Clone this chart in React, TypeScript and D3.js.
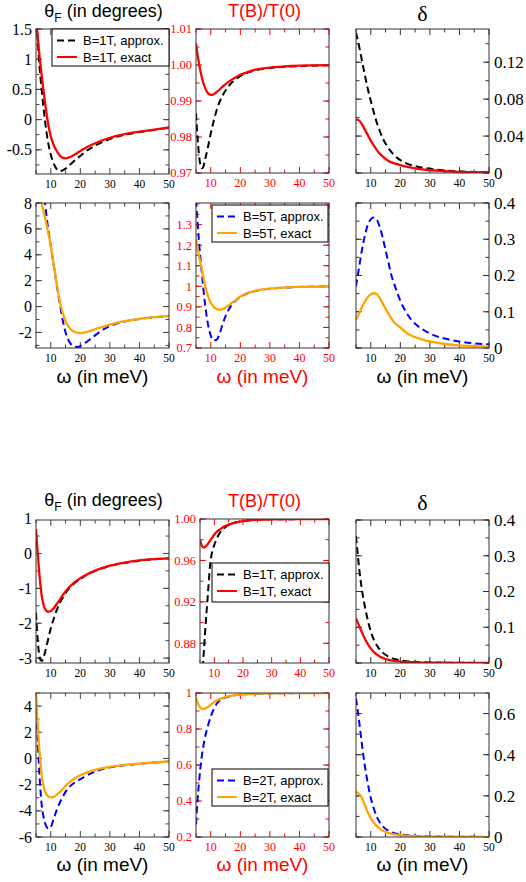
import React from "react";
import * as d3 from "d3";

// ---------------- data ----------------
const OMEGA_DOMAIN: [number, number] = [5, 50];
const X_MAJOR = [10, 20, 30, 40, 50];
const X_MINOR = [5, 15, 25, 35, 45];

// Block 1 (top), B = 1T
const w1Theta = [5, 6, 7, 8, 9, 10, 11, 12, 13, 14, 15, 16, 18, 20, 22, 25, 30, 35, 40, 45, 50];
const theta1Exact = [1.7, 1.15, 0.7, 0.3, -0.04, -0.28, -0.42, -0.52, -0.59, -0.63, -0.64, -0.63, -0.58, -0.52, -0.46, -0.39, -0.3, -0.24, -0.2, -0.165, -0.13];
const theta1Approx = [1.8, 1.0, 0.45, 0.0, -0.35, -0.58, -0.73, -0.82, -0.85, -0.84, -0.81, -0.77, -0.68, -0.6, -0.52, -0.43, -0.32, -0.25, -0.205, -0.17, -0.135];

const w1Trans = [5, 5.5, 6, 6.5, 7, 7.5, 8, 9, 10, 11, 12, 13, 14, 16, 18, 20, 22, 25, 30, 35, 40, 50];
const trans1Exact = [1.006, 1.003, 1.0005, 0.9983, 0.9965, 0.995, 0.9938, 0.9922, 0.9917, 0.9919, 0.9925, 0.9932, 0.994, 0.9953, 0.9964, 0.9973, 0.9979, 0.9987, 0.9993, 0.9996, 0.9998, 0.99995];
const trans1Approx = [0.9866, 0.98, 0.9752, 0.9722, 0.9713, 0.9718, 0.9735, 0.977, 0.981, 0.9845, 0.9875, 0.9898, 0.9915, 0.9941, 0.9958, 0.9969, 0.9977, 0.9985, 0.9992, 0.9995, 0.9997, 0.99993];

const w1Delta = [5, 6, 7, 8, 9, 10, 11, 12, 13, 14, 16, 18, 20, 22, 25, 30, 35, 40, 45, 50];
const delta1Approx = [0.152, 0.138, 0.122, 0.106, 0.091, 0.078, 0.066, 0.055, 0.046, 0.038, 0.027, 0.019, 0.014, 0.0105, 0.0075, 0.0045, 0.0028, 0.0018, 0.0012, 0.0008];
const delta1Exact = [0.058, 0.057, 0.053, 0.047, 0.041, 0.035, 0.03, 0.025, 0.021, 0.018, 0.013, 0.0105, 0.0085, 0.0068, 0.005, 0.003, 0.002, 0.0012, 0.0008, 0.0006];

// Block 1 (top), B = 5T
const w5Theta = [5, 6, 7, 8, 9, 10, 11, 12, 13, 14, 15, 16, 17, 18, 19, 20, 21, 22, 24, 26, 28, 30, 35, 40, 45, 50];
const theta5Exact = [10.2, 9.0, 7.9, 6.9, 5.9, 4.7, 3.2, 1.8, 0.45, -0.45, -1.15, -1.55, -1.8, -1.95, -2.02, -2.05, -2.02, -1.97, -1.82, -1.67, -1.53, -1.4, -1.13, -0.95, -0.82, -0.72];
const theta5Approx = [16, 13, 10.4, 8.1, 6.2, 4.7, 3.2, 1.7, 0.3, -1.0, -2.0, -2.6, -2.95, -3.1, -3.12, -3.05, -2.9, -2.75, -2.4, -2.05, -1.75, -1.52, -1.15, -0.96, -0.83, -0.73];

const w5Trans = [5, 6, 7, 8, 9, 10, 11, 12, 13, 14, 15, 16, 17, 18, 20, 22, 25, 30, 35, 40, 50];
const trans5Exact = [1.23, 1.15, 1.08, 1.01, 0.955, 0.92, 0.9, 0.889, 0.886, 0.889, 0.897, 0.907, 0.918, 0.928, 0.95, 0.965, 0.978, 0.989, 0.994, 0.997, 0.999];
const trans5Approx = [1.42, 1.22, 1.06, 0.92, 0.82, 0.76, 0.737, 0.74, 0.77, 0.815, 0.855, 0.885, 0.907, 0.925, 0.948, 0.963, 0.977, 0.988, 0.994, 0.997, 0.999];

const w5Delta = [5, 6, 7, 8, 9, 10, 11, 12, 13, 14, 15, 16, 17, 18, 20, 22, 24, 26, 28, 30, 35, 40, 45, 50];
const delta5Approx = [0.17, 0.22, 0.27, 0.31, 0.34, 0.355, 0.36, 0.355, 0.335, 0.305, 0.27, 0.235, 0.2, 0.175, 0.13, 0.098, 0.075, 0.06, 0.049, 0.04, 0.026, 0.018, 0.013, 0.01];
const delta5Exact = [0.077, 0.095, 0.113, 0.128, 0.14, 0.148, 0.151, 0.149, 0.138, 0.123, 0.108, 0.094, 0.081, 0.07, 0.057, 0.042, 0.033, 0.027, 0.022, 0.018, 0.011, 0.007, 0.005, 0.004];

// Block 2 (bottom), B = 1T
const v1Theta = [5, 5.5, 6, 6.5, 7, 7.5, 8, 9, 10, 11, 12, 13, 14, 15, 16, 18, 20, 22, 25, 30, 35, 40, 45, 50];
const thetaB1Exact = [0.7, 0.1, -0.45, -0.9, -1.25, -1.45, -1.58, -1.67, -1.65, -1.57, -1.45, -1.33, -1.2, -1.09, -0.99, -0.83, -0.71, -0.61, -0.49, -0.35, -0.26, -0.2, -0.16, -0.14];
const thetaB1Approx = [-1.7, -2.4, -2.85, -3.05, -3.08, -3.0, -2.85, -2.5, -2.15, -1.87, -1.63, -1.43, -1.27, -1.13, -1.02, -0.85, -0.73, -0.62, -0.5, -0.36, -0.27, -0.205, -0.165, -0.14];

const v1Trans = [5, 5.5, 6, 6.5, 7, 7.5, 8, 8.5, 9, 10, 11, 12, 13, 14, 16, 18, 20, 25, 30, 40, 50];
const transB1Exact = [0.98, 0.975, 0.9728, 0.9725, 0.9735, 0.975, 0.977, 0.979, 0.981, 0.985, 0.988, 0.99, 0.992, 0.9935, 0.9955, 0.997, 0.998, 0.9992, 0.9997, 0.9999, 1.0];
const transB1Approx = [0.75, 0.8, 0.855, 0.878, 0.9, 0.918, 0.937, 0.955, 0.965, 0.975, 0.982, 0.987, 0.99, 0.9925, 0.9955, 0.997, 0.998, 0.9992, 0.9997, 0.9999, 1.0];

const v1Delta = [5, 6, 7, 8, 9, 10, 11, 12, 13, 14, 16, 18, 20, 25, 30, 40, 50];
const deltaB1Approx = [0.355, 0.27, 0.205, 0.158, 0.12, 0.088, 0.066, 0.05, 0.038, 0.029, 0.018, 0.011, 0.0075, 0.003, 0.0015, 0.0005, 0.0002];
const deltaB1Exact = [0.125, 0.105, 0.086, 0.068, 0.053, 0.041, 0.031, 0.024, 0.018, 0.014, 0.009, 0.006, 0.004, 0.0018, 0.0009, 0.0003, 0.0001];

// Block 2 (bottom), B = 2T
const v2Theta = [5, 5.5, 6, 6.5, 7, 7.5, 8, 8.5, 9, 9.5, 10, 11, 12, 13, 14, 15, 16, 18, 20, 22, 25, 30, 35, 40, 45, 50];
const thetaB2Exact = [5.0, 2.9, 1.1, -0.3, -1.4, -2.05, -2.5, -2.75, -2.88, -2.94, -2.97, -2.93, -2.78, -2.58, -2.35, -2.1, -1.88, -1.53, -1.28, -1.08, -0.87, -0.64, -0.5, -0.4, -0.31, -0.23];
const thetaB2Approx = [3.5, 1.8, -0.5, -2.4, -3.7, -4.4, -4.9, -5.2, -5.33, -5.35, -5.25, -4.6, -3.95, -3.4, -2.95, -2.55, -2.25, -1.85, -1.58, -1.32, -1.0, -0.68, -0.52, -0.41, -0.31, -0.24];

const v2Trans = [5, 5.5, 6, 6.5, 7, 7.5, 8, 9, 10, 11, 12, 13, 14, 16, 18, 20, 25, 30, 40, 50];
const transB2Exact = [0.975, 0.95, 0.93, 0.918, 0.912, 0.911, 0.913, 0.922, 0.935, 0.948, 0.958, 0.966, 0.972, 0.981, 0.987, 0.991, 0.996, 0.998, 0.9995, 1.0];
const transB2Approx = [0.27, 0.4, 0.5, 0.585, 0.655, 0.705, 0.75, 0.815, 0.87, 0.91, 0.94, 0.958, 0.968, 0.98, 0.987, 0.991, 0.996, 0.998, 0.9995, 1.0];

const v2Delta = [5, 6, 7, 8, 9, 10, 11, 12, 13, 14, 16, 18, 20, 25, 30, 40, 50];
const deltaB2Approx = [0.675, 0.57, 0.45, 0.345, 0.26, 0.19, 0.14, 0.1, 0.072, 0.053, 0.03, 0.019, 0.013, 0.006, 0.003, 0.001, 0.0005];
const deltaB2Exact = [0.22, 0.21, 0.19, 0.155, 0.12, 0.092, 0.07, 0.054, 0.042, 0.032, 0.02, 0.013, 0.009, 0.004, 0.002, 0.0007, 0.0003];

// tick values
const yTicksTheta1 = [-0.5, 0, 0.5, 1, 1.5];
const yTicksTrans1 = [0.97, 0.98, 0.99, 1.0, 1.01];
const yTicksDelta1 = [0, 0.04, 0.08, 0.12];
const yTicksTheta5 = [-2, 0, 2, 4, 6, 8];
const yTicksTrans5 = [0.7, 0.8, 0.9, 1, 1.1, 1.2, 1.3];
const yTicksDelta5 = [0, 0.1, 0.2, 0.3, 0.4];
const yTicksThetaB1 = [-3, -2, -1, 0, 1];
const yTicksTransB1 = [0.88, 0.92, 0.96, 1.0];
const yTicksDeltaB1 = [0, 0.1, 0.2, 0.3, 0.4];
const yTicksThetaB2 = [-6, -4, -2, 0, 2, 4];
const yTicksTransB2 = [0.2, 0.4, 0.6, 0.8, 1];
const yTicksDeltaB2 = [0, 0.2, 0.4, 0.6];

// ---------------- styling ----------------
const RED = "#ff0000";
const BLACK = "#000000";
const BLUE = "#0000ff";
const ORANGE = "#ffa500";
const FRAME = "#333333";
const SERIF = "'Liberation Serif', 'DejaVu Serif', serif";
const SANS = "'Liberation Sans', Arial, sans-serif";

const COL1 = { left: 36, right: 169 };
const COL2 = { left: 196, right: 329 };
const COL3 = { left: 356, right: 489 };

type Series = { xs: number[]; ys: number[]; color: string; dashed: boolean };
type LegendCfg = { x: number; y: number; w: number; h: number; items: { label: string; color: string; dashed: boolean }[] };
type PanelCfg = {
  id: string;
  left: number; right: number; top: number; bottom: number;
  yDomain: [number, number];
  yTicks: number[];
  yMinor: number;
  yFmt: (v: number) => string;
  ySide: "left" | "right";
  yFont: number;
  xFont: number;
  labelColor: string;
  tickColor: string;
  series: Series[];
  legend?: LegendCfg;
};

const plain = (v: number) => String(v);
const fixed2 = (v: number) => v.toFixed(2);

const col1 = (top: number, bottom: number) => ({ ...COL1, top, bottom, ySide: "left" as const, yFont: 16, xFont: 11.5, labelColor: BLACK, tickColor: "#444" });
const col2 = (top: number, bottom: number) => ({ ...COL2, top, bottom, ySide: "left" as const, yFont: 12.5, xFont: 12, labelColor: RED, tickColor: RED });
const col3 = (top: number, bottom: number) => ({ ...COL3, top, bottom, ySide: "right" as const, yFont: 17, xFont: 11.5, labelColor: BLACK, tickColor: "#333" });

const S = (xs: number[], ys: number[], color: string, dashed: boolean): Series => ({ xs, ys, color, dashed });

const panels: PanelCfg[] = [
  {
    id: "p1", ...col1(29, 174), yDomain: [-0.9, 1.5], yTicks: yTicksTheta1, yMinor: 0.25, yFmt: plain,
    series: [S(w1Theta, theta1Approx, BLACK, true), S(w1Theta, theta1Exact, RED, false)],
    legend: { x: 52, y: 29, w: 117, h: 37, items: [
      { label: "B=1T, approx.", color: BLACK, dashed: true },
      { label: "B=1T, exact", color: RED, dashed: false },
    ] },
  },
  {
    id: "p2", ...col2(29, 173), yDomain: [0.97, 1.01], yTicks: yTicksTrans1, yMinor: 0.005, yFmt: fixed2,
    series: [S(w1Trans, trans1Approx, BLACK, true), S(w1Trans, trans1Exact, RED, false)],
  },
  {
    id: "p3", ...col3(29, 173), yDomain: [0, 0.156], yTicks: yTicksDelta1, yMinor: 0.02, yFmt: plain,
    series: [S(w1Delta, delta1Approx, BLACK, true), S(w1Delta, delta1Exact, RED, false)],
  },
  {
    id: "p4", ...col1(203, 348), yDomain: [-3.2, 8], yTicks: yTicksTheta5, yMinor: 1, yFmt: plain,
    series: [S(w5Theta, theta5Approx, BLUE, true), S(w5Theta, theta5Exact, ORANGE, false)],
  },
  {
    id: "p5", ...col2(203, 348), yDomain: [0.7, 1.405], yTicks: yTicksTrans5, yMinor: 0.05, yFmt: plain,
    series: [S(w5Trans, trans5Approx, BLUE, true), S(w5Trans, trans5Exact, ORANGE, false)],
    legend: { x: 212, y: 205, w: 116, h: 37, items: [
      { label: "B=5T, approx.", color: BLUE, dashed: true },
      { label: "B=5T, exact", color: ORANGE, dashed: false },
    ] },
  },
  {
    id: "p6", ...col3(203, 348), yDomain: [0, 0.4], yTicks: yTicksDelta5, yMinor: 0.05, yFmt: plain,
    series: [S(w5Delta, delta5Approx, BLUE, true), S(w5Delta, delta5Exact, ORANGE, false)],
  },
  {
    id: "p7", ...col1(520, 663), yDomain: [-3.14, 0.96], yTicks: yTicksThetaB1, yMinor: 0.5, yFmt: plain,
    series: [S(v1Theta, thetaB1Approx, BLACK, true), S(v1Theta, thetaB1Exact, RED, false)],
  },
  {
    id: "p8", ...col2(519, 663), left: 200, yDomain: [0.861, 1.0], yTicks: yTicksTransB1, yMinor: 0.02, yFmt: fixed2,
    series: [S(v1Trans, transB1Approx, BLACK, true), S(v1Trans, transB1Exact, RED, false)],
    legend: { x: 212, y: 563, w: 117, h: 39, items: [
      { label: "B=1T, approx.", color: BLACK, dashed: true },
      { label: "B=1T, exact", color: RED, dashed: false },
    ] },
  },
  {
    id: "p9", ...col3(520, 663), yDomain: [0, 0.4], yTicks: yTicksDeltaB1, yMinor: 0.05, yFmt: plain,
    series: [S(v1Delta, deltaB1Approx, BLACK, true), S(v1Delta, deltaB1Exact, RED, false)],
  },
  {
    id: "p10", ...col1(693, 837), yDomain: [-6, 5], yTicks: yTicksThetaB2, yMinor: 1, yFmt: plain,
    series: [S(v2Theta, thetaB2Approx, BLUE, true), S(v2Theta, thetaB2Exact, ORANGE, false)],
  },
  {
    id: "p11", ...col2(693, 837), yDomain: [0.2, 1], yTicks: yTicksTransB2, yMinor: 0.1, yFmt: plain,
    series: [S(v2Trans, transB2Approx, BLUE, true), S(v2Trans, transB2Exact, ORANGE, false)],
    legend: { x: 212, y: 769, w: 116, h: 37, items: [
      { label: "B=2T, approx.", color: BLUE, dashed: true },
      { label: "B=2T, exact", color: ORANGE, dashed: false },
    ] },
  },
  {
    id: "p12", ...col3(693, 837), yDomain: [0, 0.7], yTicks: yTicksDeltaB2, yMinor: 0.1, yFmt: plain,
    series: [S(v2Delta, deltaB2Approx, BLUE, true), S(v2Delta, deltaB2Exact, ORANGE, false)],
  },
];

const MAJOR_LEN = 6;
const MINOR_LEN = 3.5;

function Panel({ cfg }: { cfg: PanelCfg }) {
  const x = d3.scaleLinear().domain(OMEGA_DOMAIN).range([cfg.left, cfg.right]);
  const y = d3.scaleLinear().domain(cfg.yDomain).range([cfg.bottom, cfg.top]);
  const line = d3
    .line<[number, number]>()
    .x((d) => x(d[0]))
    .y((d) => y(d[1]))
    .curve(d3.curveMonotoneX);

  const [y0, y1] = cfg.yDomain;
  const start = Math.ceil(y0 / cfg.yMinor - 1e-9) * cfg.yMinor;
  const yMinorTicks = d3.range(start, y1 + 1e-9, cfg.yMinor);

  const tickLines: JSX.Element[] = [];
  const addY = (v: number, len: number, key: string) => {
    const py = y(v);
    if (py < cfg.top - 0.5 || py > cfg.bottom + 0.5) return;
    tickLines.push(<line key={key + "l"} x1={cfg.left} x2={cfg.left + len} y1={py} y2={py} />);
    tickLines.push(<line key={key + "r"} x1={cfg.right} x2={cfg.right - len} y1={py} y2={py} />);
  };
  const addX = (v: number, len: number, key: string) => {
    const px = x(v);
    tickLines.push(<line key={key + "t"} x1={px} x2={px} y1={cfg.top} y2={cfg.top + len} />);
    tickLines.push(<line key={key + "b"} x1={px} x2={px} y1={cfg.bottom} y2={cfg.bottom - len} />);
  };
  yMinorTicks.forEach((v, i) => addY(v, MINOR_LEN, "ym" + i));
  cfg.yTicks.forEach((v, i) => addY(v, MAJOR_LEN, "yM" + i));
  X_MINOR.forEach((v, i) => addX(v, MINOR_LEN, "xm" + i));
  X_MAJOR.forEach((v, i) => addX(v, MAJOR_LEN, "xM" + i));

  const clipId = "clip-" + cfg.id;
  return (
    <g>
      <defs>
        <clipPath id={clipId}>
          <rect x={cfg.left} y={cfg.top} width={cfg.right - cfg.left} height={cfg.bottom - cfg.top} />
        </clipPath>
      </defs>
      <g stroke={cfg.tickColor} strokeWidth={1}>{tickLines}</g>
      <g clipPath={`url(#${clipId})`}>
        {cfg.series.map((s, i) => (
          <path
            key={i}
            d={line(s.xs.map((xv, j) => [xv, s.ys[j]] as [number, number])) || ""}
            fill="none"
            stroke={s.color}
            strokeWidth={s.dashed ? 2 : 2.3}
            strokeDasharray={s.dashed ? "7,4" : undefined}
          />
        ))}
      </g>
      <rect
        x={cfg.left}
        y={cfg.top}
        width={cfg.right - cfg.left}
        height={cfg.bottom - cfg.top}
        fill="none"
        stroke={FRAME}
        strokeWidth={1}
      />
      {cfg.yTicks.map((v, i) => (
        <text
          key={"yl" + i}
          x={cfg.ySide === "left" ? cfg.left - 4 : cfg.right + 5}
          y={y(v)}
          dy="0.35em"
          textAnchor={cfg.ySide === "left" ? "end" : "start"}
          fontFamily={SERIF}
          fontSize={cfg.yFont}
          fill={cfg.labelColor}
        >
          {cfg.yFmt(v)}
        </text>
      ))}
      {X_MAJOR.map((v, i) => (
        <text
          key={"xl" + i}
          x={x(v)}
          y={cfg.bottom + 13.5}
          textAnchor="middle"
          fontFamily={SERIF}
          fontSize={cfg.xFont}
          fill={cfg.labelColor}
        >
          {v}
        </text>
      ))}
      {cfg.legend && (
        <g>
          <rect
            x={cfg.legend.x}
            y={cfg.legend.y}
            width={cfg.legend.w}
            height={cfg.legend.h}
            fill="#fff"
            stroke="#000"
            strokeWidth={1}
          />
          {cfg.legend.items.map((it, i) => {
            const ly = cfg.legend!.y + 11.5 + i * 16.5;
            return (
              <g key={i}>
                <line
                  x1={cfg.legend!.x + 5}
                  x2={cfg.legend!.x + 25}
                  y1={ly}
                  y2={ly}
                  stroke={it.color}
                  strokeWidth={2}
                  strokeDasharray={it.dashed ? "7,4" : undefined}
                />
                <text
                  x={cfg.legend!.x + 31}
                  y={ly}
                  dy="0.35em"
                  fontFamily={SANS}
                  fontSize={13}
                  fill="#000"
                >
                  {it.label}
                </text>
              </g>
            );
          })}
        </g>
      )}
    </g>
  );
}

function ThetaTitle({ cx, y }: { cx: number; y: number }) {
  return (
    <text x={cx} y={y} textAnchor="middle" fontFamily={SANS} fontSize={18} fill="#000">
      θ
      <tspan fontSize={12} dy={5}>F</tspan>
      <tspan dy={-5}> (in degrees)</tspan>
    </text>
  );
}

function TransTitle({ cx, y }: { cx: number; y: number }) {
  return (
    <text x={cx} y={y} textAnchor="middle" fontFamily={SANS} fontSize={18} fill={RED}>
      T(B)/T(0)
    </text>
  );
}

function DeltaTitle({ cx, y }: { cx: number; y: number }) {
  return (
    <text x={cx} y={y} textAnchor="middle" fontFamily={SERIF} fontSize={22} fill="#000">
      δ
    </text>
  );
}

function OmegaLabel({ cx, y, color }: { cx: number; y: number; color: string }) {
  return (
    <text x={cx} y={y} textAnchor="middle" fontFamily={SANS} fontSize={19} fill={color}>
      ω (in meV)
    </text>
  );
}

export default function App() {
  const c1 = (COL1.left + COL1.right) / 2;
  const c2 = (COL2.left + COL2.right) / 2;
  const c3 = (COL3.left + COL3.right) / 2;
  return (
    <svg
      width={526}
      height={882}
      style={{ position: "absolute", left: 0, top: 0, background: "#fff" }}
    >
      <rect x={0} y={0} width={526} height={882} fill="#fff" />
      <ThetaTitle cx={c1 + 1} y={16.5} />
      <TransTitle cx={c2 + 2} y={17} />
      <DeltaTitle cx={c3} y={20.5} />
      <ThetaTitle cx={c1 + 1} y={506} />
      <TransTitle cx={c2 + 2} y={507} />
      <DeltaTitle cx={c3} y={510} />
      {panels.map((p) => (
        <Panel key={p.id} cfg={p} />
      ))}
      <OmegaLabel cx={c1} y={383} color="#000" />
      <OmegaLabel cx={c2} y={383} color={RED} />
      <OmegaLabel cx={c3} y={383} color="#000" />
      <OmegaLabel cx={c1} y={871} color="#000" />
      <OmegaLabel cx={c2} y={871} color={RED} />
      <OmegaLabel cx={c3} y={871} color="#000" />
    </svg>
  );
}
